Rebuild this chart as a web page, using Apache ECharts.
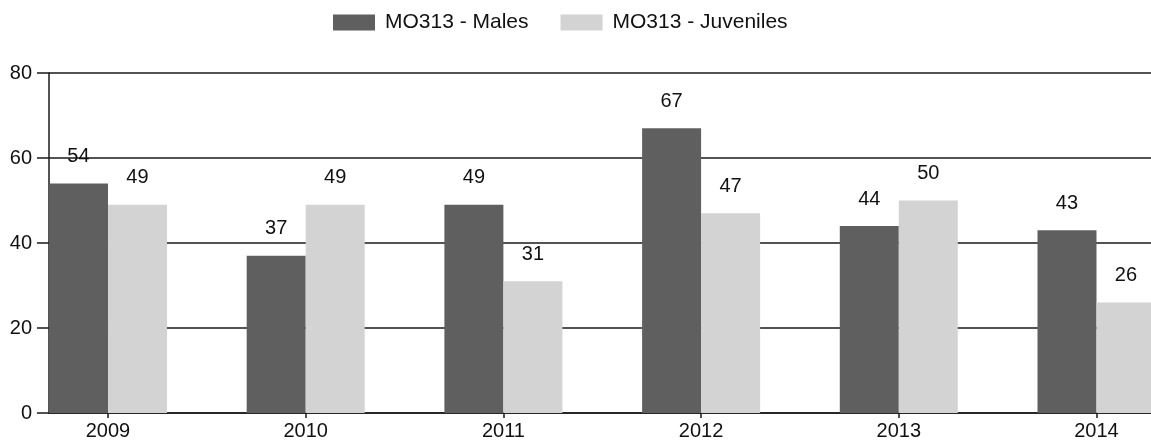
<!DOCTYPE html>
<html>
<head>
<meta charset="utf-8">
<style>
  html, body { margin: 0; padding: 0; background: #ffffff; }
  #chart { width: 1151px; height: 444px; }
</style>
<script src="https://cdn.jsdelivr.net/npm/echarts@6/dist/echarts.min.js"></script>
</head>
<body>
<div id="chart"></div>
<script>
// Yearly counts for site MO313
const years = ['2009', '2010', '2011', '2012', '2013', '2014'];
const males = [54, 37, 49, 67, 44, 43];
const juveniles = [49, 49, 31, 47, 50, 26];
const yTicks = [0, 20, 40, 60, 80];

const FONT = '"Liberation Sans", Arial, Helvetica, sans-serif';
const INK = '#111111';

// Year positions on a numeric axis (index of each year)
const yearIdx = years.map((_, i) => i);
const toPoints = (vals) => vals.map((v, i) => [yearIdx[i], v]);

const chart = echarts.init(document.getElementById('chart'), null, { renderer: 'canvas' });

const labelStyle = {
  show: true,
  position: 'top',
  distance: 17,
  color: INK,
  fontFamily: FONT,
  fontSize: 20
};

chart.setOption({
  animation: false,
  backgroundColor: '#ffffff',
  textStyle: { fontFamily: FONT },
  legend: {
    left: 333,
    top: 12,
    padding: 0,
    itemWidth: 42,
    itemHeight: 16,
    itemGap: 32,
    icon: 'rect',
    textStyle: { color: INK, fontFamily: FONT, fontSize: 21, padding: [0, 0, 0, 5] },
    data: ['MO313 - Males', 'MO313 - Juveniles']
  },
  grid: {
    left: 49,
    right: 0,
    top: 73,
    bottom: 31,
    containLabel: false,
    outerBoundsMode: 'none'
  },
  xAxis: {
    type: 'value',
    min: -0.2984,
    max: 5.2757,
    splitLine: { show: false },
    axisLine: { onZero: false, lineStyle: { color: '#1a1a1a', width: 1.5 } },
    axisTick: {
      show: true,
      customValues: yearIdx,
      length: 5,
      lineStyle: { color: '#1a1a1a', width: 1.5 }
    },
    axisLabel: {
      customValues: yearIdx,
      formatter: (v) => years[Math.round(v)],
      margin: 8,
      color: INK,
      fontFamily: FONT,
      fontSize: 20
    }
  },
  yAxis: {
    type: 'value',
    min: yTicks[0],
    max: yTicks[yTicks.length - 1],
    interval: 20,
    axisLine: { show: true, onZero: false, lineStyle: { color: '#1a1a1a', width: 1.5 } },
    axisTick: { show: true, length: 12, lineStyle: { color: '#1a1a1a', width: 1.5 } },
    axisLabel: {
      margin: 17,
      color: INK,
      fontFamily: FONT,
      fontSize: 20
    },
    splitLine: { show: true, lineStyle: { color: '#1a1a1a', width: 1.5 } }
  },
  series: [
    {
      name: 'MO313 - Males',
      type: 'bar',
      data: toPoints(males),
      barWidth: 59,
      barGap: '0%',
      itemStyle: { color: '#5f5f5f' },
      label: labelStyle
    },
    {
      name: 'MO313 - Juveniles',
      type: 'bar',
      data: toPoints(juveniles),
      barWidth: 59,
      barGap: '0%',
      itemStyle: { color: '#d3d3d3' },
      label: labelStyle
    }
  ]
});
</script>
</body>
</html>
